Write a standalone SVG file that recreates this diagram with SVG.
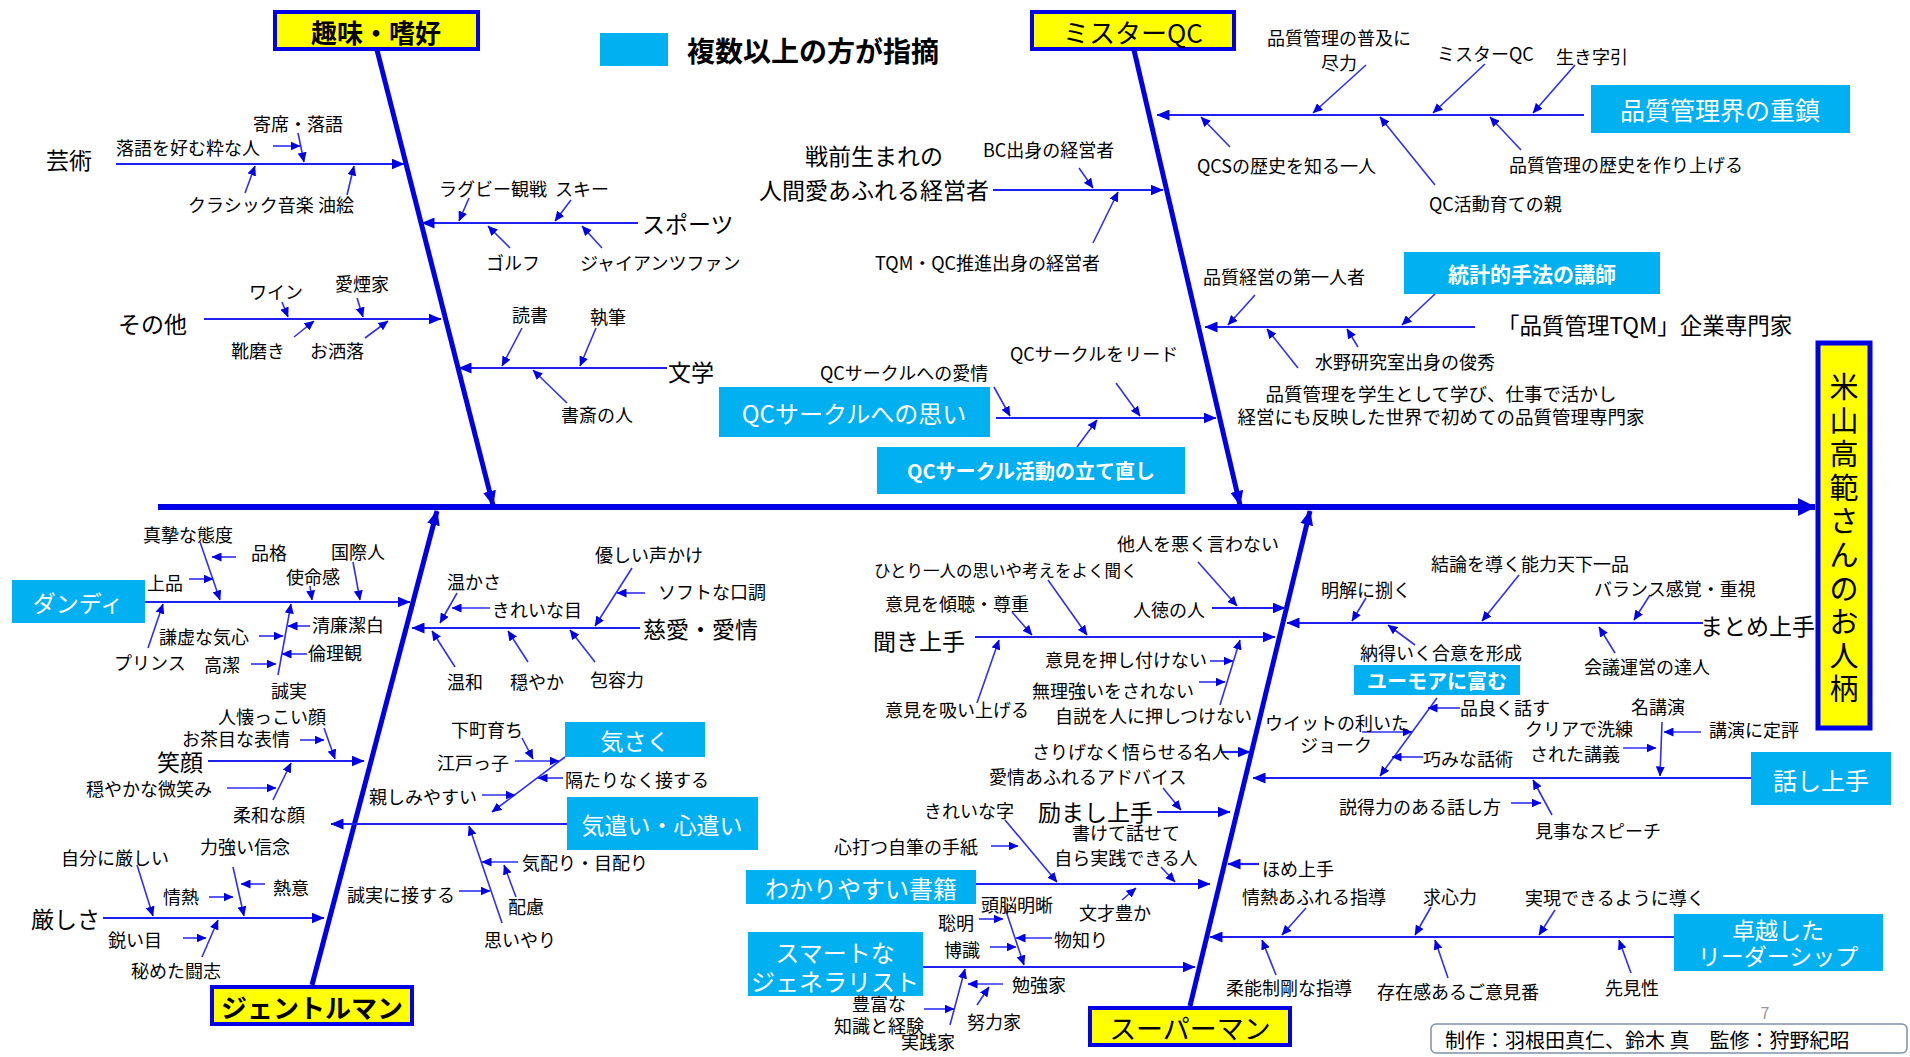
<svg xmlns="http://www.w3.org/2000/svg" width="1910" height="1057" viewBox="0 0 1910 1057">
<defs>
<style>
text{font-family:"Noto Sans CJK JP","Noto Sans",sans-serif;dominant-baseline:central;fill:#000}
.s{font-size:18px}
.m{font-size:23px}
.w{fill:#fff}
.wb{fill:#fff;font-weight:bold}
.c{text-anchor:middle}
.yb{fill:#ffff00;stroke:#0000e6;stroke-width:4}
.bb{fill:#00b0f0}
.t{stroke:#2f2ff0;stroke-width:1.6;fill:none;marker-end:url(#a)}
.br{stroke:#2020f0;stroke-width:2.2;fill:none;marker-end:url(#b)}
.bn{stroke:#0000e6;stroke-width:5;fill:none;marker-end:url(#c)}
</style>
<marker id="a" markerUnits="userSpaceOnUse" markerWidth="10" markerHeight="9" refX="9.5" refY="4.5" orient="auto"><path d="M0,0 L10,4.5 L0,9 z" fill="#0000e6"/></marker>
<marker id="b" markerUnits="userSpaceOnUse" markerWidth="13" markerHeight="11" refX="12.5" refY="5.5" orient="auto"><path d="M0,0 L13,5.5 L0,11 z" fill="#0000e6"/></marker>
<marker id="c" markerUnits="userSpaceOnUse" markerWidth="15" markerHeight="13" refX="14" refY="6.5" orient="auto"><path d="M0,0 L15,6.5 L0,13 z" fill="#0000e6"/></marker>
<marker id="d" markerUnits="userSpaceOnUse" markerWidth="18" markerHeight="18" refX="17" refY="9" orient="auto"><path d="M0,0 L18,9 L0,18 z" fill="#0000e6"/></marker>
</defs>
<rect width="1910" height="1057" fill="#fff"/>

<g id="connectors">
<line x1="158" y1="507" x2="1815" y2="507" stroke="#0000e6" stroke-width="6" marker-end="url(#d)"/>
<line class="bn" x1="377" y1="50" x2="493" y2="505"/>
<line class="bn" x1="1134" y1="50" x2="1240" y2="505"/>
<line class="bn" x1="312" y1="985" x2="437" y2="511"/>
<line class="bn" x1="1190" y1="1006" x2="1310" y2="511"/>

<line class="br" x1="116" y1="164" x2="404" y2="164"/>
<line class="br" x1="638" y1="223" x2="422" y2="223"/>
<line class="br" x1="204" y1="319" x2="441" y2="319"/>
<line class="br" x1="667" y1="368" x2="459" y2="368"/>
<line class="br" x1="1584" y1="115" x2="1157" y2="115"/>
<line class="br" x1="993" y1="190" x2="1163" y2="190"/>
<line class="br" x1="1475" y1="327" x2="1205" y2="327"/>
<line class="br" x1="996" y1="418" x2="1216" y2="418"/>
<line class="br" x1="145" y1="602" x2="410" y2="602"/>
<line class="br" x1="640" y1="628" x2="412" y2="628"/>
<line class="br" x1="208" y1="761" x2="364" y2="761"/>
<line class="br" x1="567" y1="824" x2="331" y2="824"/>
<line class="br" x1="103" y1="918" x2="324" y2="918"/>
<line class="br" x1="975" y1="637" x2="1275" y2="637"/>
<line class="br" x1="1212" y1="608" x2="1285" y2="608"/>
<line class="br" x1="1703" y1="623" x2="1287" y2="623"/>
<line class="br" x1="1751" y1="778" x2="1253" y2="778"/>
<line class="br" x1="1221" y1="752" x2="1250" y2="752"/>
<line class="br" x1="1157" y1="812" x2="1230" y2="812"/>
<line class="br" x1="976" y1="884" x2="1210" y2="884"/>
<line class="br" x1="923" y1="967" x2="1195" y2="967"/>
<line class="br" x1="1674" y1="937" x2="1210" y2="937"/>
<line class="br" x1="1259" y1="864" x2="1228" y2="864"/>

<line class="t" x1="298" y1="133" x2="304" y2="162"/>
<line class="t" x1="273" y1="146" x2="300" y2="146"/>
<line class="t" x1="245" y1="193" x2="255" y2="166"/>
<line class="t" x1="347" y1="195" x2="354" y2="166"/>
<line class="t" x1="469" y1="198" x2="459" y2="221"/>
<line class="t" x1="571" y1="200" x2="555" y2="221"/>
<line class="t" x1="510" y1="248" x2="488" y2="226"/>
<line class="t" x1="602" y1="248" x2="582" y2="226"/>
<line class="t" x1="282" y1="302" x2="288" y2="317"/>
<line class="t" x1="357" y1="298" x2="363" y2="317"/>
<line class="t" x1="294" y1="337" x2="314" y2="321"/>
<line class="t" x1="365" y1="338" x2="388" y2="321"/>
<line class="t" x1="522" y1="328" x2="502" y2="366"/>
<line class="t" x1="596" y1="328" x2="580" y2="366"/>
<line class="t" x1="567" y1="403" x2="533" y2="370"/>

<line class="t" x1="1366" y1="65" x2="1313" y2="113"/>
<line class="t" x1="1485" y1="64" x2="1433" y2="113"/>
<line class="t" x1="1575" y1="65" x2="1533" y2="113"/>
<line class="t" x1="1230" y1="147" x2="1201" y2="117"/>
<line class="t" x1="1435" y1="185" x2="1380" y2="117"/>
<line class="t" x1="1521" y1="150" x2="1490" y2="117"/>
<line class="t" x1="1079" y1="168" x2="1093" y2="188"/>
<line class="t" x1="1093" y1="243" x2="1118" y2="192"/>
<line class="t" x1="1255" y1="295" x2="1228" y2="325"/>
<line class="t" x1="1435" y1="294" x2="1402" y2="325"/>
<line class="t" x1="1358" y1="347" x2="1347" y2="329"/>
<line class="t" x1="1298" y1="368" x2="1267" y2="329"/>
<line class="t" x1="994" y1="387" x2="1010" y2="416"/>
<line class="t" x1="1116" y1="383" x2="1140" y2="416"/>
<line class="t" x1="1077" y1="447" x2="1097" y2="420"/>

<line class="t" x1="200" y1="542" x2="220" y2="600"/>
<line class="t" x1="236" y1="557" x2="212" y2="557"/>
<line class="t" x1="189" y1="579" x2="213" y2="579"/>
<line class="t" x1="310" y1="586" x2="312" y2="600"/>
<line class="t" x1="353" y1="562" x2="360" y2="600"/>
<line class="t" x1="148" y1="648" x2="163" y2="604"/>
<line class="t" x1="278" y1="675" x2="291" y2="604"/>
<line class="t" x1="259" y1="636" x2="283" y2="636"/>
<line class="t" x1="310" y1="626" x2="288" y2="626"/>
<line class="t" x1="307" y1="654" x2="282" y2="654"/>
<line class="t" x1="251" y1="664" x2="276" y2="664"/>
<line class="t" x1="457" y1="593" x2="440" y2="623"/>
<line class="t" x1="490" y1="608" x2="452" y2="608"/>
<line class="t" x1="632" y1="568" x2="595" y2="626"/>
<line class="t" x1="645" y1="593" x2="617" y2="593"/>
<line class="t" x1="455" y1="667" x2="432" y2="631"/>
<line class="t" x1="528" y1="662" x2="508" y2="631"/>
<line class="t" x1="595" y1="662" x2="570" y2="630"/>
<line class="t" x1="324" y1="728" x2="335" y2="759"/>
<line class="t" x1="300" y1="740" x2="324" y2="740"/>
<line class="t" x1="227" y1="788" x2="276" y2="788"/>
<line class="t" x1="273" y1="800" x2="291" y2="763"/>
<line class="t" x1="565" y1="757" x2="492" y2="812"/>
<line class="t" x1="522" y1="738" x2="533" y2="759"/>
<line class="t" x1="515" y1="761" x2="559" y2="761"/>
<line class="t" x1="563" y1="778" x2="538" y2="778"/>
<line class="t" x1="482" y1="795" x2="515" y2="795"/>
<line class="t" x1="518" y1="862" x2="482" y2="862"/>
<line class="t" x1="516" y1="897" x2="504" y2="865"/>
<line class="t" x1="502" y1="923" x2="469" y2="826"/>
<line class="t" x1="459" y1="891" x2="490" y2="891"/>
<line class="t" x1="137" y1="865" x2="153" y2="916"/>
<line class="t" x1="233" y1="867" x2="244" y2="916"/>
<line class="t" x1="265" y1="884" x2="241" y2="884"/>
<line class="t" x1="209" y1="897" x2="233" y2="897"/>
<line class="t" x1="183" y1="938" x2="206" y2="938"/>
<line class="t" x1="202" y1="957" x2="218" y2="920"/>

<line class="t" x1="1048" y1="580" x2="1087" y2="635"/>
<line class="t" x1="1012" y1="612" x2="1032" y2="635"/>
<line class="t" x1="977" y1="703" x2="999" y2="640"/>
<line class="t" x1="1220" y1="705" x2="1240" y2="640"/>
<line class="t" x1="1210" y1="661" x2="1233" y2="661"/>
<line class="t" x1="1199" y1="682" x2="1225" y2="682"/>
<line class="t" x1="1198" y1="562" x2="1237" y2="606"/>
<line class="t" x1="1366" y1="598" x2="1352" y2="621"/>
<line class="t" x1="1519" y1="575" x2="1482" y2="621"/>
<line class="t" x1="1650" y1="595" x2="1634" y2="620"/>
<line class="t" x1="1415" y1="645" x2="1388" y2="625"/>
<line class="t" x1="1615" y1="653" x2="1599" y2="627"/>
<line class="t" x1="1437" y1="698" x2="1380" y2="776"/>
<line class="t" x1="1460" y1="708" x2="1428" y2="708"/>
<line class="t" x1="1362" y1="732" x2="1412" y2="732"/>
<line class="t" x1="1423" y1="757" x2="1392" y2="757"/>
<line class="t" x1="1623" y1="748" x2="1656" y2="748"/>
<line class="t" x1="1662" y1="722" x2="1660" y2="776"/>
<line class="t" x1="1701" y1="732" x2="1664" y2="732"/>
<line class="t" x1="1511" y1="803" x2="1541" y2="803"/>
<line class="t" x1="1552" y1="815" x2="1533" y2="780"/>
<line class="t" x1="1163" y1="788" x2="1181" y2="810"/>
<line class="t" x1="1005" y1="820" x2="1057" y2="882"/>
<line class="t" x1="991" y1="846" x2="1018" y2="846"/>
<line class="t" x1="1161" y1="867" x2="1175" y2="882"/>
<line class="t" x1="1122" y1="900" x2="1136" y2="888"/>
<line class="t" x1="1005" y1="908" x2="1024" y2="965"/>
<line class="t" x1="979" y1="919" x2="1003" y2="919"/>
<line class="t" x1="990" y1="947" x2="1016" y2="947"/>
<line class="t" x1="1052" y1="938" x2="1016" y2="938"/>
<line class="t" x1="950" y1="1025" x2="965" y2="969"/>
<line class="t" x1="924" y1="1009" x2="954" y2="1009"/>
<line class="t" x1="1003" y1="984" x2="968" y2="984"/>
<line class="t" x1="977" y1="1005" x2="989" y2="987"/>
<line class="t" x1="1306" y1="908" x2="1282" y2="935"/>
<line class="t" x1="1431" y1="907" x2="1415" y2="935"/>
<line class="t" x1="1555" y1="910" x2="1539" y2="935"/>
<line class="t" x1="1276" y1="975" x2="1262" y2="940"/>
<line class="t" x1="1448" y1="978" x2="1435" y2="940"/>
<line class="t" x1="1631" y1="973" x2="1619" y2="940"/>
</g>

<g id="head"><rect x="1818" y="343" width="52" height="385" fill="#ffff00" stroke="#0000e6" stroke-width="5"/>
<text class="c" style="font-size:29px"><tspan x="1844" y="385">米</tspan><tspan x="1844" y="419">山</tspan><tspan x="1844" y="452">高</tspan><tspan x="1844" y="486">範</tspan><tspan x="1844" y="519">さ</tspan><tspan x="1844" y="553">ん</tspan><tspan x="1844" y="587">の</tspan><tspan x="1844" y="620">お</tspan><tspan x="1844" y="654">人</tspan><tspan x="1844" y="687">柄</tspan></text></g>

<g id="legend"><rect class="bb" x="600" y="33" width="68" height="33"/><text x="687" y="50" style="font-size:28px;font-weight:bold">複数以上の方が指摘</text></g>

<g id="cat-shumi"><rect class="yb" x="275" y="12" width="203" height="37"/><text class="c" x="376" y="31" style="font-size:26px;font-weight:bold">趣味・嗜好</text></g>
<g id="n-geijutsu"><text class="m" x="46" y="159">芸術</text></g>
<g id="n-yose"><text class="s" x="253" y="123">寄席・落語</text></g>
<g id="n-rakugo"><text class="s" x="116" y="147">落語を好む粋な人</text></g>
<g id="n-classic"><text class="s" x="188" y="204">クラシック音楽</text></g>
<g id="n-abura"><text class="s" x="318" y="204">油絵</text></g>
<g id="n-sports"><text class="m" x="642" y="223">スポーツ</text></g>
<g id="n-rugby"><text class="s" x="439" y="188">ラグビー観戦</text></g>
<g id="n-ski"><text class="s" x="555" y="188">スキー</text></g>
<g id="n-golf"><text class="s" x="486" y="262">ゴルフ</text></g>
<g id="n-giants"><text class="s" x="580" y="262">ジャイアンツファン</text></g>
<g id="n-sonota"><text class="m" x="118" y="323">その他</text></g>
<g id="n-wine"><text class="s" x="249" y="291">ワイン</text></g>
<g id="n-aien"><text class="s" x="335" y="283">愛煙家</text></g>
<g id="n-kutsu"><text class="s" x="231" y="350">靴磨き</text></g>
<g id="n-share"><text class="s" x="310" y="350">お洒落</text></g>
<g id="n-bungaku"><text class="m" x="668" y="371">文学</text></g>
<g id="n-dokusho"><text class="s" x="512" y="314">読書</text></g>
<g id="n-shippitsu"><text class="s" x="590" y="316">執筆</text></g>
<g id="n-shosai"><text class="s" x="561" y="414">書斎の人</text></g>

<g id="cat-mrqc"><rect class="yb" x="1032" y="12" width="202" height="37"/><text class="c" x="1133" y="31" style="font-size:26px">ミスターQC</text></g>
<g id="n-fukyu"><text class="s c" x="1339" y="37">品質管理の普及に</text><text class="s c" x="1339" y="62">尽力</text></g>
<g id="n-mrqc2"><text class="s" x="1437" y="53">ミスターQC</text></g>
<g id="n-ikiji"><text class="s" x="1556" y="56">生き字引</text></g>
<g id="n-juchin"><rect class="bb" x="1591" y="85" width="259" height="48"/><text class="w c" x="1720" y="109" style="font-size:25px">品質管理界の重鎮</text></g>
<g id="n-qcs"><text class="s" x="1197" y="165">QCSの歴史を知る一人</text></g>
<g id="n-oya"><text class="s" x="1429" y="203">QC活動育ての親</text></g>
<g id="n-rekishi"><text class="s" x="1509" y="164">品質管理の歴史を作り上げる</text></g>
<g id="n-senzen"><text class="m c" x="874" y="155">戦前生まれの</text><text class="m c" x="874" y="189">人間愛あふれる経営者</text></g>
<g id="n-bc"><text class="s" x="983" y="149">BC出身の経営者</text></g>
<g id="n-tqm"><text class="s" x="875" y="262">TQM・QC推進出身の経営者</text></g>
<g id="n-daiichi"><text class="s" x="1203" y="276">品質経営の第一人者</text></g>
<g id="n-toukei"><rect class="bb" x="1404" y="252" width="256" height="42"/><text class="wb c" x="1532" y="273" style="font-size:21px">統計的手法の講師</text></g>
<g id="n-senmonka"><text x="1497" y="324" style="font-size:22.5px">「品質管理TQM」企業専門家</text></g>
<g id="n-mizuno"><text class="s" x="1315" y="361">水野研究室出身の俊秀</text></g>
<g id="n-gakusei"><text class="c" x="1441" y="393" style="font-size:18.5px">品質管理を学生として学び、仕事で活かし</text><text class="c" x="1441" y="416" style="font-size:18.5px">経営にも反映した世界で初めての品質管理専門家</text></g>
<g id="n-qcomoi"><rect class="bb" x="719" y="387" width="271" height="50"/><text class="w c" x="854" y="412" style="font-size:24px">QCサークルへの思い</text></g>
<g id="n-qcaijo"><text class="s" x="820" y="372">QCサークルへの愛情</text></g>
<g id="n-qclead"><text class="s" x="1010" y="353">QCサークルをリード</text></g>
<g id="n-tatenaoshi"><rect class="bb" x="877" y="447" width="308" height="47"/><text class="wb c" x="1031" y="470" style="font-size:20px">QCサークル活動の立て直し</text></g>

<g id="cat-gentleman"><rect class="yb" x="212" y="987" width="200" height="37"/><text class="c" x="312" y="1006" style="font-size:26px;font-weight:bold">ジェントルマン</text></g>
<g id="n-dandy"><rect class="bb" x="12" y="580" width="133" height="43"/><text class="w c" x="78" y="602" style="font-size:23px">ダンディ</text></g>
<g id="n-shinshi"><text class="s" x="143" y="534">真摯な態度</text></g>
<g id="n-hinkaku"><text class="s" x="251" y="552">品格</text></g>
<g id="n-jouhin"><text class="s" x="147" y="582">上品</text></g>
<g id="n-shimei"><text class="s" x="286" y="576">使命感</text></g>
<g id="n-kokusai"><text class="s" x="331" y="551">国際人</text></g>
<g id="n-prince"><text class="s" x="114" y="662">プリンス</text></g>
<g id="n-seijitsu"><text class="s" x="271" y="690">誠実</text></g>
<g id="n-kenkyo"><text class="s" x="159" y="636">謙虚な気心</text></g>
<g id="n-seiren"><text class="s" x="312" y="624">清廉潔白</text></g>
<g id="n-rinri"><text class="s" x="308" y="652">倫理観</text></g>
<g id="n-kouketsu"><text class="s" x="204" y="664">高潔</text></g>
<g id="n-jiai"><text class="m" x="643" y="628">慈愛・愛情</text></g>
<g id="n-atataka"><text class="s" x="447" y="581">温かさ</text></g>
<g id="n-kireime"><text class="s" x="492" y="609">きれいな目</text></g>
<g id="n-yasashii"><text class="s" x="595" y="554">優しい声かけ</text></g>
<g id="n-soft"><text class="s" x="658" y="591">ソフトな口調</text></g>
<g id="n-onwa"><text class="s" x="447" y="681">温和</text></g>
<g id="n-odayaka"><text class="s" x="510" y="681">穏やか</text></g>
<g id="n-houyou"><text class="s" x="590" y="679">包容力</text></g>
<g id="n-egao"><text class="m" x="157" y="761">笑顔</text></g>
<g id="n-hitonatsu"><text class="s" x="218" y="716">人懐っこい顔</text></g>
<g id="n-ochame"><text class="s" x="182" y="738">お茶目な表情</text></g>
<g id="n-hohoemi"><text class="s" x="86" y="788">穏やかな微笑み</text></g>
<g id="n-nyuwa"><text class="s" x="233" y="814">柔和な顔</text></g>
<g id="n-kisaku"><rect class="bb" x="565" y="722" width="140" height="35"/><text class="w c" x="635" y="740" style="font-size:23px">気さく</text></g>
<g id="n-kizukai"><rect class="bb" x="567" y="797" width="191" height="53"/><text class="w c" x="662" y="824" style="font-size:23px">気遣い・心遣い</text></g>
<g id="n-shitamachi"><text class="s" x="451" y="729">下町育ち</text></g>
<g id="n-edokko"><text class="s" x="437" y="762">江戸っ子</text></g>
<g id="n-hedatari"><text class="s" x="565" y="779">隔たりなく接する</text></g>
<g id="n-shitashimi"><text class="s" x="369" y="796">親しみやすい</text></g>
<g id="n-kikubari"><text class="s" x="522" y="862">気配り・目配り</text></g>
<g id="n-hairyo"><text class="s" x="508" y="906">配慮</text></g>
<g id="n-omoiyari"><text class="s" x="484" y="939">思いやり</text></g>
<g id="n-seijitsu2"><text class="s" x="347" y="894">誠実に接する</text></g>
<g id="n-kibishisa"><text class="m" x="31" y="918">厳しさ</text></g>
<g id="n-jibun"><text class="s" x="61" y="857">自分に厳しい</text></g>
<g id="n-shinnen"><text class="s" x="200" y="846">力強い信念</text></g>
<g id="n-netsui"><text class="s" x="273" y="887">熱意</text></g>
<g id="n-jonetsu"><text class="s" x="163" y="896">情熱</text></g>
<g id="n-surudoi"><text class="s" x="108" y="939">鋭い目</text></g>
<g id="n-toshi"><text class="s" x="131" y="970">秘めた闘志</text></g>

<g id="cat-superman"><rect class="yb" x="1090" y="1008" width="200" height="37"/><text class="c" x="1190" y="1027" style="font-size:27px">スーパーマン</text></g>
<g id="n-kikijouzu"><text class="m" x="873" y="640">聞き上手</text></g>
<g id="n-hitori"><text x="874" y="570" style="font-size:16.5px">ひとり一人の思いや考えをよく聞く</text></g>
<g id="n-keichou"><text class="s" x="885" y="603">意見を傾聴・尊重</text></g>
<g id="n-suiage"><text class="s" x="885" y="709">意見を吸い上げる</text></g>
<g id="n-oshitsuke"><text class="s" x="1045" y="659">意見を押し付けない</text></g>
<g id="n-muri"><text class="s" x="1032" y="690">無理強いをされない</text></g>
<g id="n-jisetsu"><text class="s" x="1055" y="715">自説を人に押しつけない</text></g>
<g id="n-tanin"><text class="s" x="1117" y="543">他人を悪く言わない</text></g>
<g id="n-jintoku"><text class="s" x="1133" y="609">人徳の人</text></g>
<g id="n-matome"><text class="m" x="1700" y="625">まとめ上手</text></g>
<g id="n-meikai"><text class="s" x="1321" y="589">明解に捌く</text></g>
<g id="n-ketsuron"><text class="s" x="1431" y="563">結論を導く能力天下一品</text></g>
<g id="n-balance"><text class="s" x="1594" y="588">バランス感覚・重視</text></g>
<g id="n-nattoku"><text class="s" x="1360" y="652">納得いく合意を形成</text></g>
<g id="n-kaigi"><text class="s" x="1584" y="666">会議運営の達人</text></g>
<g id="n-humor"><rect class="bb" x="1354" y="665" width="166" height="30"/><text class="wb c" x="1437" y="680" style="font-size:20px">ユーモアに富む</text></g>
<g id="n-hinyoku"><text class="s" x="1460" y="707">品良く話す</text></g>
<g id="n-wit"><text class="s" x="1265" y="722">ウイットの利いた</text><text class="s" x="1300" y="744">ジョーク</text></g>
<g id="n-takumi"><text class="s" x="1423" y="758">巧みな話術</text></g>
<g id="n-clear"><text class="s" x="1525" y="728">クリアで洗練</text><text class="s" x="1530" y="753">された講義</text></g>
<g id="n-meikoen"><text class="s" x="1631" y="706">名講演</text></g>
<g id="n-teihyo"><text class="s" x="1709" y="729">講演に定評</text></g>
<g id="n-hanashi"><rect class="bb" x="1751" y="752" width="140" height="53"/><text class="w c" x="1821" y="779" style="font-size:24px">話し上手</text></g>
<g id="n-settoku"><text class="s" x="1339" y="806">説得力のある話し方</text></g>
<g id="n-speech"><text class="s" x="1535" y="830">見事なスピーチ</text></g>
<g id="n-sarige"><text class="s" x="1032" y="751">さりげなく悟らせる名人</text></g>
<g id="n-advice"><text class="s" x="989" y="776">愛情あふれるアドバイス</text></g>
<g id="n-hagemashi"><text class="m" x="1038" y="811">励まし上手</text></g>
<g id="n-shoseki"><rect class="bb" x="746" y="870" width="230" height="34"/><text class="w c" x="861" y="887" style="font-size:24px">わかりやすい書籍</text></g>
<g id="n-kireiji"><text class="s" x="924" y="810">きれいな字</text></g>
<g id="n-tegami"><text class="s" x="834" y="846">心打つ自筆の手紙</text></g>
<g id="n-kakete"><text class="s c" x="1126" y="832">書けて話せて</text><text class="s c" x="1126" y="857">自ら実践できる人</text></g>
<g id="n-bunsai"><text class="s" x="1079" y="912">文才豊か</text></g>
<g id="n-smart"><rect class="bb" x="748" y="932" width="175" height="64"/><text class="w c" x="835" y="951" style="font-size:24px">スマートな</text><text class="w c" x="835" y="980" style="font-size:24px">ジェネラリスト</text></g>
<g id="n-zuno"><text class="s" x="981" y="904">頭脳明晰</text></g>
<g id="n-somei"><text class="s" x="938" y="922">聡明</text></g>
<g id="n-hakushiki"><text class="s" x="944" y="949">博識</text></g>
<g id="n-monoshiri"><text class="s" x="1054" y="939">物知り</text></g>
<g id="n-hofu"><text class="s" x="852" y="1003">豊富な</text><text class="s" x="834" y="1025">知識と経験</text></g>
<g id="n-jissenka"><text class="s" x="901" y="1041">実践家</text></g>
<g id="n-benkyo"><text class="s" x="1012" y="984">勉強家</text></g>
<g id="n-doryoku"><text class="s" x="967" y="1021">努力家</text></g>
<g id="n-leader"><rect class="bb" x="1674" y="914" width="209" height="57"/><text class="w c" x="1778" y="929" style="font-size:23px">卓越した</text><text class="w c" x="1778" y="955" style="font-size:23px">リーダーシップ</text></g>
<g id="n-home"><text class="s" x="1262" y="868">ほめ上手</text></g>
<g id="n-jonetsu2"><text class="s" x="1242" y="896">情熱あふれる指導</text></g>
<g id="n-kyushin"><text class="s" x="1423" y="896">求心力</text></g>
<g id="n-jitsugen"><text class="s" x="1525" y="897">実現できるように導く</text></g>
<g id="n-junou"><text class="s" x="1226" y="987">柔能制剛な指導</text></g>
<g id="n-sonzai"><text class="s" x="1377" y="991">存在感あるご意見番</text></g>
<g id="n-senken"><text class="s" x="1605" y="987">先見性</text></g>

<g id="footer"><text x="1765" y="1012" style="font-size:16px;fill:#999" class="c">7</text>
<rect x="1431" y="1024" width="476" height="29" rx="5" fill="none" stroke="#8090aa" stroke-width="1.5"/>
<text x="1445" y="1039" style="font-size:20px">制作：羽根田真仁、鈴木 真　監修：狩野紀昭</text></g>
</svg>
